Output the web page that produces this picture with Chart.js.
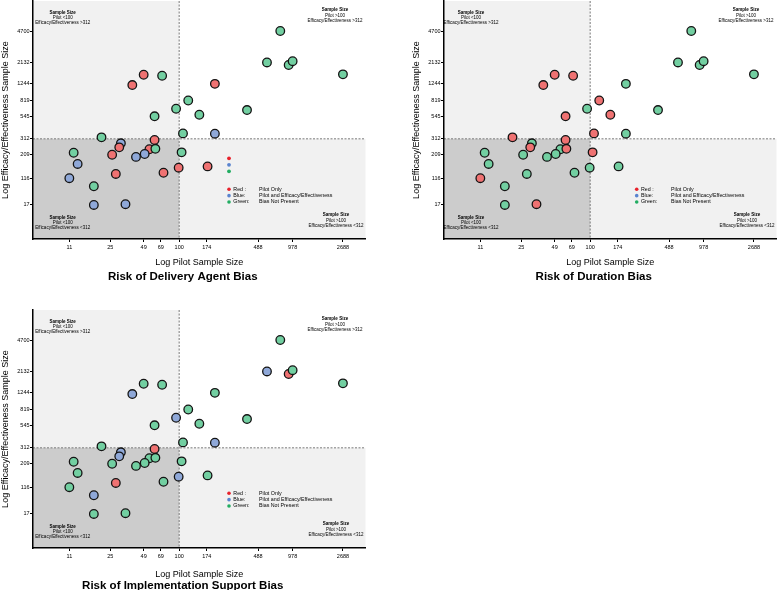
<!DOCTYPE html>
<html><head><meta charset="utf-8">
<script src="https://cdn.jsdelivr.net/npm/chart.js@4.4.1/dist/chart.umd.min.js"></script>
<style>
html,body{margin:0;padding:0;background:#fff;overflow:hidden;width:778px;height:590px;position:relative;}
.p{position:absolute;width:367px;height:290px;}
canvas{display:block;}
</style></head><body>
<div class="p" style="left:0;top:0"><canvas id="c1" width="367" height="290"></canvas></div>
<div class="p" style="left:411px;top:0"><canvas id="c2" width="367" height="290"></canvas></div>
<div class="p" style="left:0;top:309px"><canvas id="c3" width="367" height="290"></canvas></div>
<script>
// ---- data ----
const pilotSize    = [763, 584, 903, 978, 2688, 205, 120, 94, 150, 391, 108, 205, 39, 49, 71, 61, 21, 61, 31, 30, 55, 62, 26, 42, 50, 12, 13, 105, 11, 28, 73, 99, 177, 18, 18, 34];
const efficacySize = [4700, 2132, 2000, 2200, 1580, 1244, 819, 665, 572, 644, 358, 355, 1207, 1564, 1525, 550, 324, 303, 279, 252, 240, 243, 209, 198, 213, 220, 166, 222, 116, 129, 133, 151, 156, 65, 17, 18];
// R = Pilot Only, B = Pilot and Efficacy/Effectiveness, G = Bias Not Present
const deliveryAgentBias = ['G','G','G','G','G','R','G','G','G','G','G','B','R','R','G','G','G','R','B','R','R','G','R','B','B','G','B','G','B','R','R','R','R','G','B','B'];
const durationBias      = ['G','G','G','G','G','G','R','G','R','G','R','G','R','R','R','R','R','R','G','R','G','R','G','G','G','G','G','R','R','G','G','G','G','G','G','R'];
const implSupportBias   = ['G','B','R','G','G','G','G','B','G','G','G','B','B','G','G','G','G','R','B','B','G','G','G','G','G','G','G','G','G','R','G','B','G','B','G','G'];
const xTickValues = [11, 25, 49, 69, 100, 174, 488, 978, 2688];
const xTickLabels = ['11','25','49','69','100','174','488','978','2688'];
const yTickValues = [4700, 2132, 1244, 819, 545, 312, 209, 116, 17];
const yTickLabels = ['4700','2132','1244','819','545','312','209','116','17'];
const panelTitles = ['Risk of Delivery Agent Bias','Risk of Duration Bias','Risk of Implementation Support Bias'];
const legendKeys  = ['Red :','Blue:','Green:'];
const legendTexts = ['Pilot Only','Pilot and Efficacy/Effectiveness','Bias Not Present'];
const pilotCut = 100, efficacyCut = 312;

// ---- styling ----
const FONT = "'Liberation Sans', Arial, Helvetica, sans-serif";
const FILL = {R:'#ef7272', B:'#8fa8d8', G:'#72cfa1'};
const DOT  = {R:'#e8212b', B:'#5a84cf', G:'#22ad62'};
const CODES = ['R','B','G'];

// y axis: log above 116, compressed log below (as in the reference axis)
const L116 = Math.log10(116), LOW_K = 0.351;
function yPos(v){ const L = Math.log10(v); return v >= 116 ? L : L116 - (L116 - L) * LOW_K; }

const quadPlugin = {
  id: 'quads',
  beforeDraw(chart){
    const {ctx, chartArea:a, scales:{x, y}} = chart;
    const xm = x.getPixelForValue(pilotCut), ym = y.getPixelForValue(yPos(efficacyCut));
    ctx.save();
    ctx.fillStyle = '#f1f1f1';
    ctx.fillRect(a.left, a.top, xm - a.left, ym - a.top);
    ctx.fillRect(xm, ym, a.right - xm, a.bottom - ym);
    ctx.fillStyle = '#cccccc';
    ctx.fillRect(a.left, ym, xm - a.left, a.bottom - ym);
    ctx.strokeStyle = '#7a7a7a'; ctx.lineWidth = 1; ctx.setLineDash([2, 1.5]);
    ctx.beginPath();
    ctx.moveTo(xm, a.top); ctx.lineTo(xm, a.bottom);
    ctx.moveTo(a.left, ym); ctx.lineTo(a.right, ym);
    ctx.stroke();
    ctx.restore();
  },
  afterDatasetsDraw(chart, args, o){
    const {ctx, chartArea:a} = chart;
    ctx.save();
    ctx.fillStyle = '#000';
    ctx.textAlign = 'center'; ctx.textBaseline = 'middle';
    const notes = [
      [a.left + o.ulx, a.top + 11.3, '<100', '>312'],
      [a.left + 302,   a.top + 9,    '>100', '>312'],
      [a.left + o.ulx, a.top + 216.3,'<100', '<312'],
      [a.left + 303,   a.top + 214,  '>100', '<312']
    ];
    notes.forEach(([cx, cy, p, e]) => {
      ctx.font = 'bold 4.5px ' + FONT; ctx.fillText('Sample Size', cx, cy);
      ctx.font = '4.5px ' + FONT;
      ctx.fillText('Pilot ' + p, cx, cy + 5.3);
      ctx.fillText('Efficacy/Effectiveness ' + e, cx, cy + 10.8);
    });
    // legend
    const lx = a.left + o.lx, ly = a.top + o.ly;
    ctx.textAlign = 'left';
    ctx.font = '5.3px ' + FONT;
    CODES.forEach((c, i) => {
      const yy = ly + i * 6.35;
      ctx.fillStyle = DOT[c];
      ctx.beginPath(); ctx.arc(lx, yy, 1.8, 0, Math.PI * 2); ctx.fill();
      ctx.fillStyle = '#000';
      ctx.fillText(legendKeys[i], lx + 4.3, yy);
      ctx.fillText(legendTexts[i], lx + o.descDx, yy);
    });
    if (o.extraDots) {
      CODES.forEach((c, i) => {
        ctx.fillStyle = DOT[c];
        ctx.beginPath(); ctx.arc(lx, a.top + 157.3 + i * 6.5, 1.9, 0, Math.PI * 2); ctx.fill();
      });
    }
    ctx.restore();
  }
};

function makeChart(id, codes, title, p){
  return new Chart(document.getElementById(id), {
    type: 'scatter',
    data: { datasets: [{
      data: pilotSize.map((v, i) => ({x: v, y: yPos(efficacySize[i])})),
      backgroundColor: codes.map(c => FILL[c]),
      borderColor: '#141414', borderWidth: 1.3,
      pointRadius: 4.3, pointHoverRadius: 4.3
    }]},
    options: {
      responsive: false, animation: false, devicePixelRatio: 1,
      layout: { autoPadding: false, padding: {left: 0, right: 1.5, top: 1, bottom: 6.1} },
      plugins: {
        legend: {display: false}, tooltip: {enabled: false},
        title: {display: true, text: title, position: 'bottom', color: '#000',
                font: {family: FONT, size: 11.5, weight: 'bold'}, padding: {top: 0, bottom: 0}},
        quads: p
      },
      scales: {
        x: {
          type: 'logarithmic', min: 5.3, max: 4230,
          afterBuildTicks: s => { s.ticks = xTickValues.map(v => ({value: v})); },
          afterFit: s => { s.height = 31.1; s.paddingLeft = 0; s.paddingRight = 0; },
          ticks: {callback: (v, i) => xTickLabels[i], autoSkip: false, maxRotation: 0, minRotation: 0,
                  font: {family: FONT, size: 5.5}, color: '#000', padding: 1.7},
          grid: {drawOnChartArea: false, drawTicks: true, tickLength: 3, color: '#000', lineWidth: 1},
          border: {display: true, color: '#000', width: 1.5},
          title: {display: true, text: 'Log Pilot Sample Size', color: '#000',
                  font: {family: FONT, size: 9}, padding: {top: 0, bottom: p.xTitlePad}}
        },
        y: {
          type: 'linear', min: 1.40, max: 4.0, bounds: 'data',
          afterBuildTicks: s => { s.ticks = yTickValues.map(v => ({value: yPos(v)})); },
          afterFit: s => { s.width = 33; s.paddingTop = 0; s.paddingBottom = 0; },
          ticks: {callback: (v, i) => yTickLabels[i], autoSkip: false,
                  font: {family: FONT, size: 5.5}, color: '#000', padding: 0.5},
          grid: {drawOnChartArea: false, drawTicks: true, tickLength: 3, color: '#000', lineWidth: 1},
          border: {display: true, color: '#000', width: 1.5},
          title: {display: true, text: 'Log Efficacy/Effectiveness Sample Size', color: '#000',
                  font: {family: FONT, size: 9}, padding: {top: 0, bottom: 0}}
        }
      }
    },
    plugins: [quadPlugin]
  });
}

makeChart('c1', deliveryAgentBias, panelTitles[0], {ulx: 29.7, lx: 196, ly: 188.3, descDx: 30, extraDots: true, xTitlePad: 2.2});
makeChart('c2', durationBias, panelTitles[1], {ulx: 27, lx: 192.7, ly: 188.3, descDx: 34.3, extraDots: false, xTitlePad: 2.2});
makeChart('c3', implSupportBias, panelTitles[2], {ulx: 29.7, lx: 196, ly: 183.3, descDx: 30, extraDots: false, xTitlePad: -1.3});
</script>
</body></html>
